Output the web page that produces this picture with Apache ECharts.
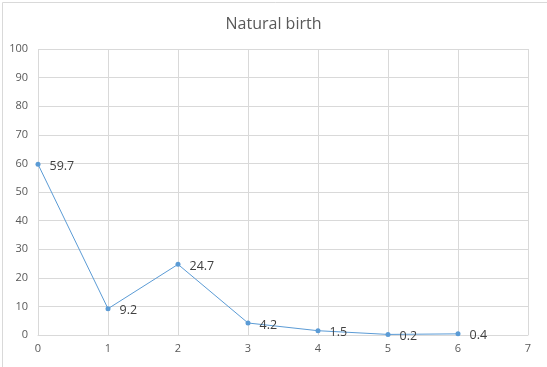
<!DOCTYPE html>
<html>
<head>
<meta charset="utf-8">
<script src="https://cdn.jsdelivr.net/npm/echarts@6/dist/echarts.min.js"></script>
<style>html,body{margin:0;padding:0;background:#fff;}#c{width:547px;height:367px;}</style>
</head>
<body>
<div id="c"></div>
<script>
const xValues = [0, 1, 2, 3, 4, 5, 6];
const births = [59.7, 9.2, 24.7, 4.2, 1.5, 0.2, 0.4];
const titleText = 'Natural birth';

const chart = echarts.init(document.getElementById('c'));
const font = '"Open Sans", "Noto Sans", sans-serif';
chart.setOption({
  animation: false,
  title: {
    text: titleText, left: 'center', top: 11,
    textStyle: { fontFamily: font, fontSize: 16, fontWeight: 'normal', color: '#595959' }
  },
  graphic: [{
    type: 'rect', left: 0, top: 0, silent: true,
    shape: { x: 0.5, y: 0.5, width: 546, height: 366 },
    style: { fill: 'none', stroke: '#d9d9d9', lineWidth: 1 }
  }],
  grid: { left: 38, right: 19, top: 49, bottom: 32 },
  xAxis: {
    type: 'value', min: 0, max: 7, interval: 1,
    axisLine: { show: true, lineStyle: { color: '#d9d9d9' } },
    axisTick: { show: false },
    splitLine: { show: true, lineStyle: { color: '#d9d9d9' } },
    axisLabel: { color: '#595959', fontSize: 11, fontFamily: font, margin: 8 }
  },
  yAxis: {
    type: 'value', min: 0, max: 100, interval: 10,
    axisLine: { show: false },
    axisTick: { show: false },
    splitLine: { show: true, lineStyle: { color: '#d9d9d9' } },
    axisLabel: { color: '#595959', fontSize: 11, fontFamily: font, margin: 10 }
  },
  series: [{
    type: 'line',
    data: xValues.map((x, i) => [x, births[i]]),
    symbol: 'circle', symbolSize: 5,
    lineStyle: { color: '#5b9bd5', width: 1 },
    itemStyle: { color: '#5b9bd5' },
    label: {
      show: true, position: 'right', distance: 9,
      color: '#404040', fontSize: 12.5, fontFamily: font,
      offset: [0, 2],
      formatter: p => p.value[1]
    }
  }]
});
</script>
</body>
</html>
